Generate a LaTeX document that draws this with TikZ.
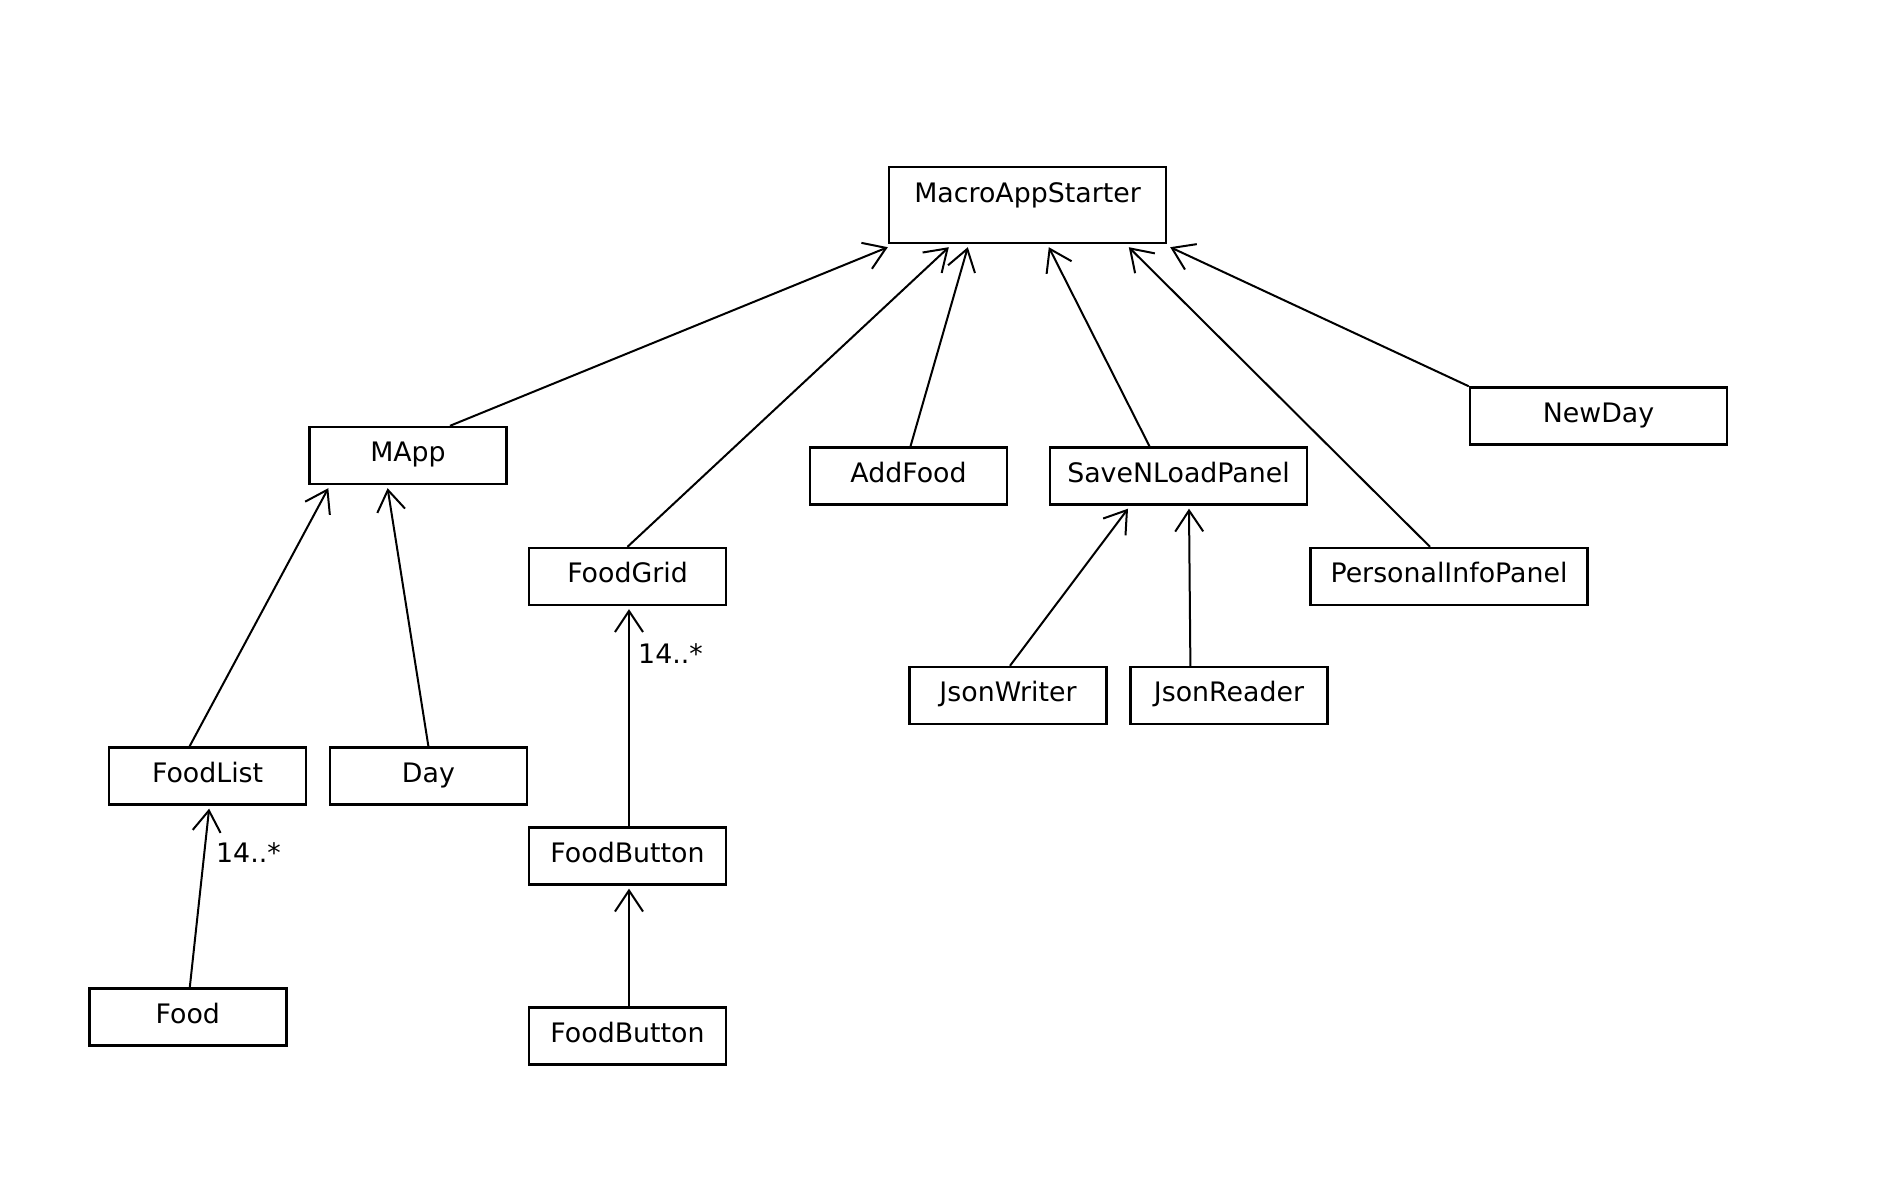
\documentclass[tikz,border=0pt]{standalone}
\usepackage{fontspec}
\setmainfont{DejaVu Sans}
\usetikzlibrary{arrows.meta,calc}
\begin{document}
\begin{tikzpicture}[x=1pt,y=-1pt,
  cls/.style={draw,line width=2.4pt,rectangle,inner sep=0pt,minimum height=57pt,
    text height=19.5pt,text depth=6.8pt,font=\fontsize{26.8}{32}\selectfont},
  assoc/.style={line width=2pt,-{Straight Barb[length=21pt,width=28pt,line width=2pt]}},
  mult/.style={inner sep=0pt,font=\fontsize{26.8}{32}\selectfont,anchor=west}]
\useasboundingbox[fill=white] (0,0) rectangle (1880,1196);

\node[cls,minimum width=277pt,minimum height=76pt,text height=35pt,text depth=41pt] (mas) at (1027.5,205) {MacroAppStarter};
\node[cls,minimum width=197pt] (mapp) at (408,455.5) {MApp};
\node[cls,minimum width=197pt] (addfood) at (908.5,476) {AddFood};
\node[cls,minimum width=257pt] (snl) at (1178.5,476) {SaveNLoadPanel};
\node[cls,minimum width=257pt] (newday) at (1598.5,416) {NewDay};
\node[cls,minimum width=197pt] (foodgrid) at (627.5,576.5) {FoodGrid};
\node[cls,minimum width=277pt] (pip) at (1449,576.5) {PersonalInfoPanel};
\node[cls,minimum width=197pt] (jw) at (1008,695.5) {JsonWriter};
\node[cls,minimum width=197pt] (jr) at (1229,695.5) {JsonReader};
\node[cls,minimum width=197pt] (foodlist) at (207.6,776) {FoodList};
\node[cls,minimum width=197pt] (day) at (428.4,776) {Day};
\node[cls,minimum width=197pt] (fb1) at (627.5,856) {FoodButton};
\node[cls,minimum width=197pt] (fb2) at (627.5,1036) {FoodButton};
\node[cls,minimum width=197pt] (food) at (187.8,1017) {Food};

\draw[assoc] ($(mapp.north)+(42,0)$) -- ($(mas.south west)+(0,3)$);
\draw[assoc] (foodgrid.north) -- ($(mas.south west)+(61,3)$);
\draw[assoc] ($(addfood.north)+(2,0)$) -- ($(mas.south west)+(80,3)$);
\draw[assoc] ($(snl.north)+(-29,0)$) -- ($(mas.south west)+(161,3)$);
\draw[assoc] ($(pip.north)+(-19,0)$) -- ($(mas.south west)+(241,3)$);
\draw[assoc] (newday.north west) -- ($(mas.south east)+(3,3)$);

\draw[assoc] ($(foodlist.north)+(-18,0)$) -- ($(mapp.south west)+(20,3)$);
\draw[assoc] (day.north) -- ($(mapp.south)+(-20.4,3)$);
\draw[assoc] ($(food.north)+(2,0)$) -- ($(foodlist.south)+(1.5,3)$);
\draw[assoc] ($(fb1.north)+(1.5,0)$) -- ($(foodgrid.south)+(1.5,3)$);
\draw[assoc] ($(fb2.north)+(1.5,0)$) -- ($(fb1.south)+(1.5,3)$);
\draw[assoc] ($(jw.north)+(2,0)$) -- ($(snl.south)+(-50.5,3)$);
\draw[assoc] ($(jr.north)+(-38.6,0)$) -- ($(snl.south)+(10.5,3)$);

\node[mult] (m1) at (216,852.5) {14..*};
\node[mult] (m2) at (638,654) {14..*};
\end{tikzpicture}
\end{document}
